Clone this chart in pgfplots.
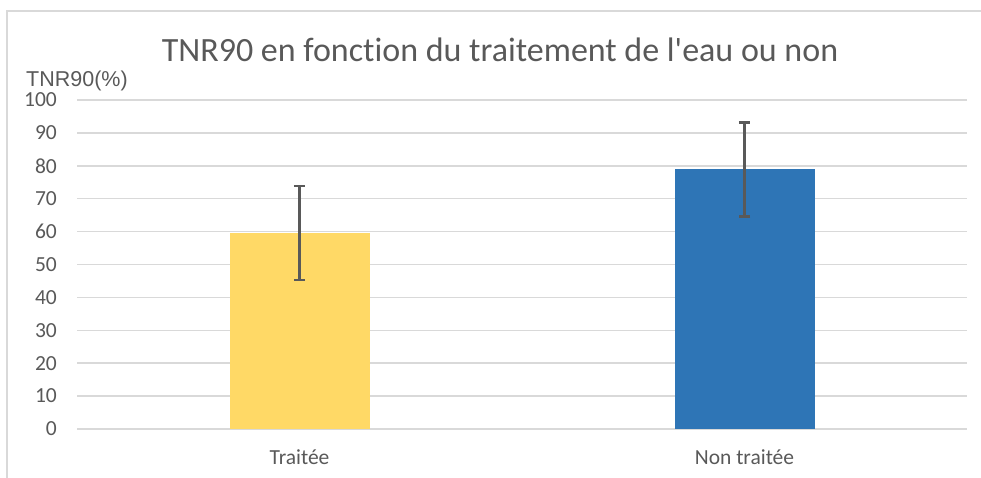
\documentclass[border=0pt]{standalone}
\usepackage{fontspec}
\setmainfont{Carlito}[Ligatures={TeX,NoCommon}]
\newfontfamily\arialfont{Liberation Sans}
\usepackage{pgfplots}
\pgfplotsset{compat=1.18}
\definecolor{txt}{HTML}{595959}
\definecolor{gridc}{HTML}{D9D9D9}
\definecolor{jaune}{HTML}{FFD966}
\definecolor{bleu}{HTML}{2E75B6}
\begin{document}
\begin{tikzpicture}[x=1pt,y=1pt]
\useasboundingbox (0,0) rectangle (981,478);
% cadre du graphique (coupé à droite et en bas)
\draw[gridc, line width=1.2pt] (7,0) -- (7,467) -- (981,467);
\begin{axis}[
  at={(77pt,49pt)}, anchor=south west,
  scale only axis,
  width=890pt, height=329pt,
  xmin=-0.5, xmax=1.5,
  ymin=0, ymax=100,
  ytick={0,10,...,100},
  xtick={0,1},
  xticklabels={Traitée, Non traitée},
  ymajorgrids,
  grid style={gridc, line width=1.5pt},
  axis line style={draw=none},
  major tick length=0pt,
  /pgf/number format/assume math mode=true,
  tick label style={font=\fontsize{21.5}{26}\selectfont, text=txt},
  yticklabel style={anchor=east, inner sep=0pt, xshift=-20pt},
  xticklabel style={anchor=base, inner sep=0pt, yshift=-36pt},
  ybar, bar width=140pt, bar shift=0pt,
]
\addplot[fill=jaune, draw=none,
  error bars/.cd, y dir=both, y explicit,
  error bar style={line width=2.4pt, txt},
  error mark options={rotate=90, mark size=5.7pt, line width=2.4pt, txt}]
  coordinates {(0,59.5) +- (0,14.3)};
\addplot[fill=bleu, draw=none,
  error bars/.cd, y dir=both, y explicit,
  error bar style={line width=2.4pt, txt},
  error mark options={rotate=90, mark size=5.7pt, line width=2.4pt, txt}]
  coordinates {(1,78.9) +- (0,14.3)};
\end{axis}
\node[anchor=base, text=txt, font=\fontsize{34}{40}\selectfont, inner sep=0pt]
  at (500,416) {TNR90 en fonction du traitement de l\textquotesingle eau ou non};
\node[anchor=base west, text=txt, font=\arialfont\fontsize{21.5}{26}\selectfont, inner sep=0pt]
  at (26,391) {TNR90(\%)};
\end{tikzpicture}
\end{document}
